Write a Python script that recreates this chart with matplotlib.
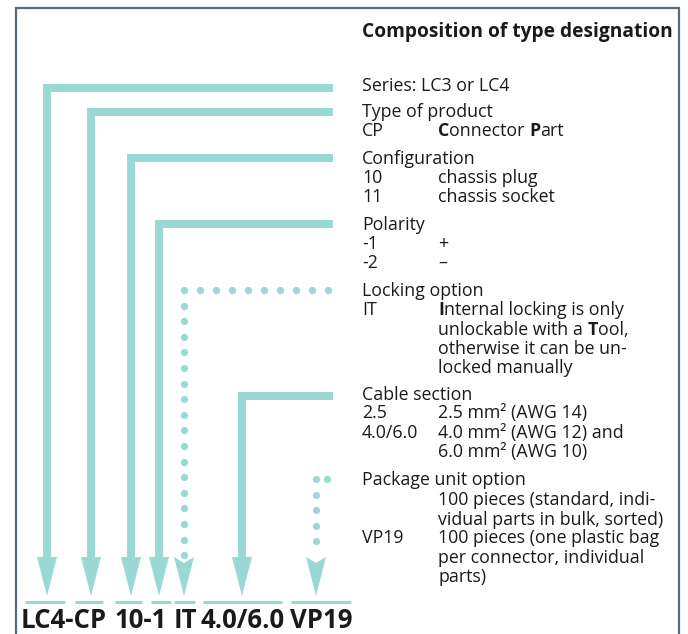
import numpy as np
import matplotlib
matplotlib.use('Agg')
import matplotlib.pyplot as plt
from matplotlib.patches import Polygon

plt.rcParams['font.family'] = ['Open Sans', 'DejaVu Sans']

teal = '#99d8d3'
border = '#5b6b77'
ink = '#1a1a1a'

# fields of the type designation, left to right
field_codes = ['LC4', 'CP', '10', '-1', 'IT', '4.0/6.0', 'VP19']
field_dotted = [False, False, False, False, True, False, True]
stem_x = [47, 91, 131, 159, 184, 242, 316]
bend_y = [88, 112, 158, 224, 290, 396, 479]
line_end = [333, 333, 333, 333, 328, 333, 327]
dot_count = [0, 0, 0, 0, 10, 0, 2]
underline_x = [(25, 65), (75, 103), (115, 142), (151, 171), (174, 195), (203, 282), (291, 351)]

# printed designation, word by word, centred over the underlines
words = ['LC4-CP', '10-1', 'IT', '4.0/6.0', 'VP19']
word_x = [64, 141, 185, 243, 321]
title = 'Composition of type designation'

# right hand text: (baseline y, left column, right column parts)
# right column parts are (text, bold) pairs
legend_lines = [
    (91, 'Series: LC3 or LC4', None),
    (117, 'Type of product', None),
    (136, 'CP', [('C', True), ('onnector ', False), ('P', True), ('art', False)]),
    (164, 'Configuration', None),
    (183, '10', [('chassis plug', False)]),
    (202, '11', [('chassis socket', False)]),
    (230, 'Polarity', None),
    (249, '-1', [('+', False)]),
    (268, '-2', [('\u2013', False)]),
    (296, 'Locking option', None),
    (315, 'IT', [('I', True), ('nternal locking is only', False)]),
    (335, '', [('unlockable with a ', False), ('T', True), ('ool,', False)]),
    (354, '', [('otherwise it can be un-', False)]),
    (373, '', [('locked manually', False)]),
    (400, 'Cable section', None),
    (418, '2.5', [('2.5 mm\u00b2 (AWG 14)', False)]),
    (438, '4.0/6.0', [('4.0 mm\u00b2 (AWG 12) and', False)]),
    (457, '', [('6.0 mm\u00b2 (AWG 10)', False)]),
    (485, 'Package unit option', None),
    (505, '', [('100 pieces (standard, indi-', False)]),
    (525, '', [('vidual parts in bulk, sorted)', False)]),
    (543, 'VP19', [('100 pieces (one plastic bag', False)]),
    (563, '', [('per connector, individual', False)]),
    (582, '', [('parts)', False)]),
]

fs = 12.8

fig = plt.figure(figsize=(6.88, 6.34), dpi=100)
ax = fig.add_axes([0, 0, 1, 1])
ax.set_xlim(0, 688)
ax.set_ylim(634, 0)
ax.axis('off')

# frame
ax.plot([16, 16, 679, 679], [640, 8, 8, 640], color=border, lw=1.6,
        solid_joinstyle='miter', solid_capstyle='butt')

head_top = 557
tip_y = 596
lw_px = 8 * 0.72

for x, y, x_end, dotted, n in zip(stem_x, bend_y, line_end, field_dotted, dot_count):
    if dotted:
        hx = np.linspace(x, x_end, n)
        ax.plot(hx, np.full(len(hx), y), 'o', color=teal, ms=5.2, mec='none')
        vy = np.arange(y + 15.6, head_top - 1, 15.6)
        ax.plot(np.full(len(vy), x), vy, 'o', color=teal, ms=5.2, mec='none')
        head = [(x - 10, head_top), (x, head_top + 6), (x + 10, head_top), (x, tip_y)]
    else:
        ax.plot([x_end, x, x], [y, y, head_top + 2], color=teal, lw=lw_px,
                solid_joinstyle='miter', solid_capstyle='butt')
        head = [(x - 10, head_top), (x + 10, head_top), (x, tip_y)]
    ax.add_patch(Polygon(head, closed=True, color=teal, lw=0))

for x0, x1 in underline_x:
    ax.plot([x0, x1], [602, 602], color=teal, lw=2.2, solid_capstyle='butt')

for w, x in zip(words, word_x):
    ax.text(x, 628, w, fontsize=18.5, fontweight='bold', color=ink,
            va='baseline', ha='center')

ax.text(362, 37, title, fontsize=13.8, fontweight='bold', color=ink, va='baseline')


def rich_line(x, y, parts):
    t = None
    for s, bold in parts:
        w = 'bold' if bold else 'normal'
        if t is None:
            t = ax.text(x, y, s, fontsize=fs, fontweight=w, color=ink, va='baseline')
        else:
            t = ax.annotate(s, xy=(1, 0), xycoords=t, fontsize=fs, fontweight=w,
                            color=ink, va='bottom', ha='left')


for y, left, right in legend_lines:
    if left:
        ax.text(362, y, left, fontsize=fs, color=ink, va='baseline')
    if right:
        rich_line(438, y, right)

plt.savefig('out.png', dpi=100)
